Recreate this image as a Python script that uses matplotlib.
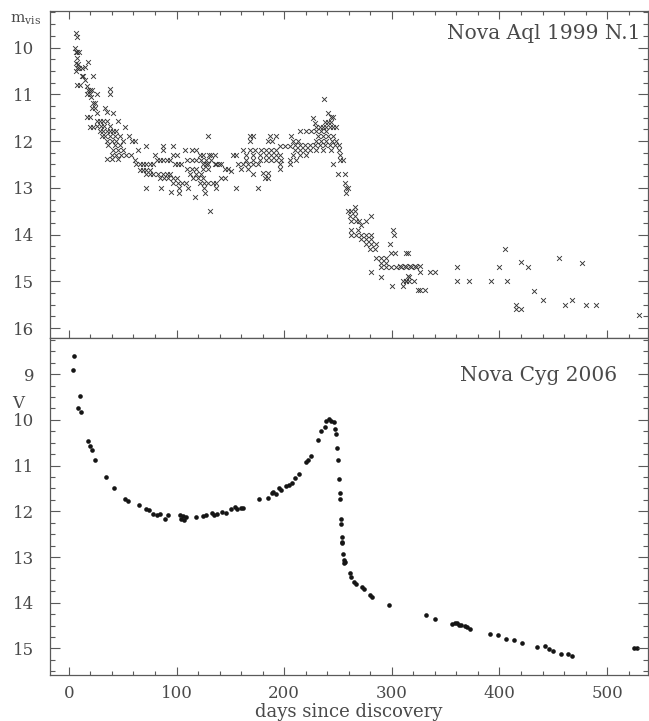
import numpy as np
import matplotlib
matplotlib.use('Agg')
import matplotlib.pyplot as plt
from matplotlib.ticker import MultipleLocator

plt.rcParams['font.family'] = ['DejaVu Serif']
plt.rcParams['mathtext.fontset'] = 'dejavuserif'

# Nova Aql 1999 N.1 - visual estimates (day, m_vis)
aql_day = [6.5, 7.1, 5.9, 6.5, 7.7, 9.0, 7.1, 6.5, 8.4, 7.1, 9.5, 6.5, 11.8, 14.9, 18.0,
           7.1, 10.2, 11.8, 13.3, 14.9, 17.0, 17.6, 19.5, 22.6, 17.0, 19.5, 20.4, 21.0, 26.3,
           38.0, 38.0, 22.0, 24.1, 24.1, 21.0, 25.7, 16.4, 19.5, 33.4, 35.0, 41.0,
           19.5, 22.6, 25.7, 28.8, 31.9, 35.0, 26.3, 29.4, 32.5, 38.0, 45.8, 52.0,
           28.8, 31.9, 35.0, 38.0, 41.1, 44.2, 30.3, 33.4, 38.0, 42.7, 47.3, 56.0,
           35.0, 39.6, 44.2, 50.4, 58.2, 61.3, 36.5, 42.7, 47.3,
           41.1, 45.8, 50.4, 39.6, 44.2, 48.8, 53.5, 57.6, 35.6, 40.5, 45.8, 61.3, 64.0, 72.0,
           62.8, 65.9, 69.0, 72.0, 75.1, 78.2, 65.9, 69.0, 72.0, 75.1, 72.0, 75.1, 78.2,
           80.0, 87.6, 87.6, 81.4, 84.5, 87.6, 90.7, 93.7, 82.9, 87.6, 90.7, 93.7,
           97.0, 97.0, 100.0, 98.4, 101.5, 104.6, 84.5, 88.2, 92.2, 96.8, 100.0,
           96.8, 101.5, 105.5, 108.6, 72.0, 85.4, 95.3, 102.0, 102.0,
           108.0, 114.0, 118.5, 121.6, 109.3, 114.0, 118.5, 123.1, 127.8, 132.4, 135.5,
           109.3, 114.0, 118.5, 124.7, 129.4, 112.4, 118.5, 123.1, 115.5, 120.1, 124.7,
           121.6, 125.6, 129.4, 134.0, 137.1, 110.8, 117.0, 125.3, 126.2, 137.1,
           129.4, 131.0, 125.0, 130.0, 132.4, 135.5, 124.7, 127.8, 129.4, 137.1, 139.7, 141.7,
           141.7, 144.8, 144.8, 147.9, 151.0, 152.5, 155.6, 155.6,
           157.2, 161.8, 166.5, 171.1, 175.8, 160.3, 166.5, 171.1,
           161.8, 168.0, 172.7, 178.9, 183.5, 188.1, 192.8, 168.0, 171.1, 168.0,
           164.9, 171.1, 177.3, 183.5, 188.1, 192.8, 195.9,
           164.9, 171.1, 177.3, 183.5, 188.1, 192.8, 197.4, 205.2,
           175.8, 182.0, 185.1, 180.4, 185.1, 186.6, 192.2, 185.1, 189.1,
           195.9, 200.5, 205.2, 195.9, 195.9, 206.7, 208.3, 212.9,
           209.8, 214.4, 219.1, 223.7, 209.8, 214.4, 219.1, 223.7, 208.3, 214.4, 220.6, 211.4, 205.2,
           226.8, 228.4, 214.4, 220.6, 225.3, 229.9, 234.6, 239.2,
           229.9, 232.9, 236.1, 239.2, 242.3, 245.4, 248.5,
           231.4, 236.1, 240.8, 245.4, 229.9, 234.6, 239.2, 244.0, 248.5,
           228.4, 233.0, 237.7, 242.3, 247.0, 251.2, 230.0, 236.1, 243.9, 251.0,
           236.7, 240.8, 243.9, 245.4, 237.7, 240.8, 243.9, 251.6, 251.6, 254.7, 245.4,
           250.0, 256.2, 256.2, 257.8, 259.3, 257.8,
           259.3, 262.4, 265.5, 265.5, 260.9, 265.5, 269.5, 275.7, 281.0,
           262.4, 267.1, 271.7, 262.4, 268.6, 262.4, 267.1, 271.7, 276.3, 281.0,
           271.7, 276.3, 281.0, 276.3, 281.0, 285.6, 279.5, 284.1,
           285.6, 290.3, 294.9, 299.5, 302.6, 290.3, 294.9,
           290.3, 294.9, 299.5, 304.2, 308.8, 313.5, 318.1, 322.8,
           281.0, 290.3, 300.9, 302.4, 298.0, 315.0, 300.5, 310.4,
           312.9, 315.9, 320.8, 315.9, 324.0,
           307.3, 311.9, 316.6, 321.2, 325.9, 313.5, 310.4, 313.5, 315.0,
           325.9, 335.1, 339.8, 325.9, 330.5,
           360.5, 360.5, 371.7, 392.4, 400.0, 407.0, 405.1,
           415.6, 415.6, 420.3, 420.3, 426.5, 432.0, 440.4, 455.2, 460.5, 467.3,
           477.0, 480.6, 489.9, 530.0]
aql_mag = [9.68, 9.78, 10.0, 10.09, 10.1, 10.1, 10.23, 10.33, 10.35, 10.44, 10.44, 10.51, 10.44, 10.41, 10.3,
           10.8, 10.8, 10.6, 10.6, 10.69, 10.82, 10.9, 10.9, 10.6, 11.0, 11.0, 11.05, 10.9, 11.0,
           10.89, 11.0, 11.19, 11.19, 11.3, 11.3, 11.4, 11.49, 11.49, 11.3, 11.37, 11.4,
           11.7, 11.7, 11.58, 11.58, 11.58, 11.58, 11.67, 11.67, 11.67, 11.67, 11.58, 11.7,
           11.79, 11.79, 11.79, 11.79, 11.79, 11.79, 11.9, 11.9, 11.9, 11.9, 11.9, 11.9,
           12.0, 12.0, 12.0, 12.0, 12.0, 12.0, 12.08, 12.08, 12.08,
           12.19, 12.19, 12.19, 12.29, 12.29, 12.29, 12.29, 12.29, 12.39, 12.39, 12.39, 12.4, 12.2, 12.11,
           12.5, 12.5, 12.5, 12.5, 12.5, 12.5, 12.61, 12.61, 12.61, 12.61, 12.7, 12.7, 12.7,
           12.29, 12.1, 12.2, 12.4, 12.4, 12.4, 12.4, 12.4, 12.7, 12.7, 12.7, 12.7,
           12.1, 12.29, 12.29, 12.5, 12.5, 12.5, 12.79, 12.79, 12.79, 12.79, 12.79,
           12.9, 12.9, 12.9, 12.9, 13.0, 13.0, 13.08, 13.0, 13.1,
           12.19, 12.19, 12.2, 12.29, 12.4, 12.4, 12.4, 12.4, 12.4, 12.4, 12.5,
           12.6, 12.6, 12.6, 12.6, 12.6, 12.7, 12.7, 12.7, 12.8, 12.8, 12.8,
           12.9, 12.9, 12.9, 12.9, 12.9, 13.0, 13.2, 13.0, 13.1, 13.0,
           11.9, 13.5, 12.29, 12.29, 12.29, 12.29, 12.5, 12.5, 12.5, 12.5, 12.5, 12.5,
           12.79, 12.79, 12.6, 12.6, 12.65, 12.29, 12.29, 13.0,
           12.5, 12.5, 12.5, 12.5, 12.5, 12.6, 12.6, 12.7,
           12.19, 12.19, 12.19, 12.19, 12.19, 12.19, 12.19, 11.9, 11.9, 12.0,
           12.29, 12.29, 12.29, 12.29, 12.29, 12.29, 12.29,
           12.4, 12.4, 12.4, 12.4, 12.4, 12.4, 12.4, 12.4,
           13.0, 12.79, 12.79, 12.69, 12.69, 11.9, 11.9, 12.0, 12.0,
           12.11, 12.11, 12.11, 12.5, 12.6, 11.9, 12.0, 12.0,
           12.09, 12.09, 12.09, 12.09, 12.2, 12.2, 12.2, 12.2, 12.29, 12.29, 12.29, 12.4, 12.5,
           11.51, 11.62, 11.79, 11.79, 11.79, 11.79, 11.79, 11.79,
           11.7, 11.7, 11.7, 11.7, 11.7, 11.7, 11.7,
           11.9, 11.9, 11.9, 11.9, 12.0, 12.0, 12.0, 12.0, 12.0,
           12.09, 12.09, 12.09, 12.09, 12.09, 12.09, 12.19, 12.19, 12.19, 12.19,
           11.1, 11.4, 11.49, 11.49, 11.6, 11.6, 11.6, 12.29, 12.4, 12.4, 12.5,
           12.7, 12.7, 12.9, 13.0, 13.0, 13.1,
           13.5, 13.5, 13.5, 13.41, 13.6, 13.6, 13.7, 13.7, 13.6,
           13.7, 13.7, 13.8, 13.9, 13.9, 14.0, 14.0, 14.0, 14.0, 14.0,
           14.1, 14.1, 14.1, 14.2, 14.2, 14.2, 14.3, 14.3,
           14.5, 14.5, 14.5, 14.4, 14.4, 14.6, 14.6,
           14.7, 14.7, 14.7, 14.7, 14.7, 14.7, 14.7, 14.7,
           14.8, 14.9, 13.9, 14.0, 14.2, 14.4, 15.1, 15.1,
           15.0, 15.0, 15.0, 14.9, 15.18,
           14.68, 14.68, 14.68, 14.68, 14.68, 14.4, 15.0, 15.0, 14.89,
           14.79, 14.79, 14.79, 15.18, 15.18,
           14.7, 15.0, 15.0, 15.0, 14.7, 15.0, 14.3,
           15.5, 15.6, 15.6, 14.59, 14.7, 15.2, 15.4, 14.5, 15.5, 15.4,
           14.6, 15.5, 15.5, 15.71]

# Nova Cyg 2006 - V photometry (day, V)
cyg_day = [4.9, 4.0, 10.2, 8.7, 11.1, 17.9, 19.5, 21.0, 24.1, 34.1, 41.8, 52.0, 55.0, 65.0,
           71.5, 74.6, 78.3, 82.0, 84.5, 89.1, 92.2, 103.0, 104.6, 106.8, 108.6, 106.0,
           117.9, 124.7, 127.8, 132.5, 134.6, 137.7, 142.3, 146.4, 150.4, 154.1, 156.6,
           160.3, 161.9, 176.4, 185.4, 188.5, 189.7, 192.2, 195.3, 197.5, 201.5, 204.6,
           207.4, 209.8, 213.6, 220.0, 222.2, 225.3, 231.5, 234.6, 237.7, 239.2, 241.7,
           243.9, 246.0, 247.0, 247.9, 248.8, 249.8, 251.0, 251.6, 251.6, 252.6, 253.2,
           254.1, 254.1, 253.8, 254.7, 255.3, 256.9, 255.6, 260.9, 262.5, 264.6, 267.1,
           272.4, 273.9, 279.5, 281.3, 297.4, 332.1, 339.8, 355.9, 358.4, 360.5, 362.4,
           364.6, 367.7, 370.2, 372.9, 391.5, 398.6, 405.8, 413.2, 420.9, 434.8, 442.6,
           445.9, 449.7, 456.8, 463.6, 467.6, 524.9, 528.0]
cyg_mag = [8.61, 8.91, 9.48, 9.73, 9.82, 10.46, 10.58, 10.66, 10.88, 11.26, 11.50, 11.74, 11.78, 11.87,
           11.95, 11.98, 12.05, 12.08, 12.05, 12.16, 12.09, 12.09, 12.16, 12.20, 12.12, 12.10,
           12.12, 12.10, 12.09, 12.03, 12.07, 12.06, 12.02, 12.03, 11.96, 11.90, 11.96,
           11.93, 11.92, 11.73, 11.71, 11.61, 11.57, 11.63, 11.48, 11.54, 11.44, 11.43,
           11.38, 11.27, 11.19, 10.93, 10.88, 10.79, 10.44, 10.25, 10.15, 10.02, 9.99,
           10.02, 10.04, 10.19, 10.30, 10.61, 10.88, 11.30, 11.61, 11.72, 12.16, 12.28,
           12.56, 12.69, 12.68, 12.94, 13.07, 13.11, 13.13, 13.36, 13.44, 13.54, 13.58,
           13.65, 13.69, 13.84, 13.87, 14.06, 14.27, 14.35, 14.46, 14.44, 14.44, 14.48,
           14.49, 14.51, 14.54, 14.57, 14.69, 14.70, 14.79, 14.82, 14.87, 14.97, 14.95,
           15.02, 15.06, 15.11, 15.13, 15.16, 14.99, 15.00]

txt = '#4a4a4a'
edge = '#5a5a5a'

fig = plt.figure(figsize=(6.49, 7.21), dpi=100)
ax1 = fig.add_axes([0.0763, 0.5312, 0.9222, 0.4535])
ax2 = fig.add_axes([0.0763, 0.0638, 0.9222, 0.4674], sharex=ax1)

ax1.scatter(aql_day, aql_mag, marker='x', s=12, c='#353535', linewidths=0.65)
ax2.scatter(cyg_day, cyg_mag, marker='o', s=11, c='#151515', linewidths=0)

ax1.set_xlim(-18, 538)
ax1.set_ylim(16.21, 9.22)
ax2.set_ylim(15.58, 8.21)

for ax in (ax1, ax2):
    ax.xaxis.set_major_locator(MultipleLocator(100))
    ax.xaxis.set_minor_locator(MultipleLocator(20))
    ax.yaxis.set_major_locator(MultipleLocator(1))
    ax.yaxis.set_minor_locator(MultipleLocator(0.25))
    ax.tick_params(which='both', direction='in', right=True, color=edge, width=0.8,
                   labelcolor=txt, labelsize=12)
    ax.tick_params(axis='y', which='major', length=7, pad=11)
    ax.tick_params(axis='y', which='minor', length=3.5)
    ax.tick_params(axis='x', which='major', length=5.5, pad=7)
    ax.tick_params(axis='x', which='minor', length=3)
    for s in ax.spines.values():
        s.set_color(edge)
        s.set_linewidth(0.9)

ax1.tick_params(which='both', top=True, labelbottom=False)
ax2.tick_params(which='both', top=False)

ax1.text(0.988, 0.93, 'Nova Aql 1999 N.1', transform=ax1.transAxes, ha='right',
         va='center', fontsize=14.5, color=txt)
ax2.text(0.948, 0.89, 'Nova Cyg 2006', transform=ax2.transAxes, ha='right',
         va='center', fontsize=14.5, color=txt)

fig.text(0.016, 0.973, r'$\mathrm{m_{vis}}$', fontsize=11, color=txt, ha='left', va='center')
fig.text(0.018, 0.44, 'V', fontsize=12, color=txt, ha='left', va='center')
ax2.set_xlabel('days since discovery', fontsize=13, color=txt, labelpad=1)

fig.savefig('out.png', dpi=100)
